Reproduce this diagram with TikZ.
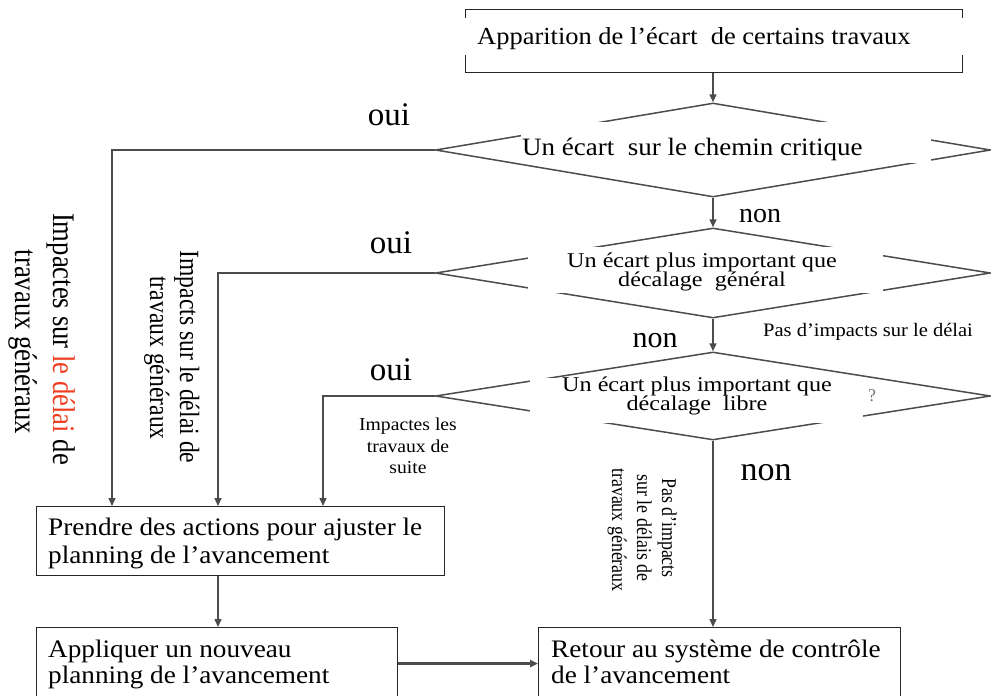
\documentclass[tikz,border=0pt]{standalone}
\usepackage{fontspec}
\setmainfont{Liberation Serif}
\newfontfamily\widefont{Liberation Serif}[FakeStretch=1.08]
\newfontfamily\widerfont{Liberation Serif}[FakeStretch=1.15]
\newfontfamily\narrowfont{Liberation Serif}[FakeStretch=0.85]
\usetikzlibrary{shapes.geometric,arrows.meta,calc}
\definecolor{linegray}{gray}{0.3}
\definecolor{accentred}{RGB}{240,60,30}
\newcommand{\tightpair}[2]{\parbox[b]{330pt}{\centering\widerfont\fontsize{21}{19.5}\selectfont\lineskiplimit=-100pt\lineskip=0pt #1\\#2}}
\begin{document}
\begin{tikzpicture}[x=1pt,y=-1pt,
  conn/.style={draw=linegray, line width=1.5pt},
  arr/.style={conn, -{Triangle[length=8pt,width=7pt]}},
  boxn/.style={draw=black!85, line width=1.1pt, inner sep=0pt, anchor=north west},
  dia/.style={diamond, draw=linegray, line width=1.5pt, inner sep=0pt, minimum width=555pt},
  mask/.style={fill=white, draw=none, inner sep=0pt},
  wtxt/.style={inner sep=0pt, anchor=base west, font=\widefont\fontsize{#1}{#1}\selectfont},
  ctxt/.style={inner sep=0pt, anchor=base, font=\widefont\fontsize{#1}{#1}\selectfont},
  yn/.style={inner sep=1pt, anchor=base, fill=white, font=\rmfamily\fontsize{#1}{#1}\selectfont},
  vtxt/.style={inner sep=0pt, anchor=base, rotate=-90, font=\narrowfont\fontsize{#1}{#1}\selectfont},
]
\path[use as bounding box, fill=white] (0,0) rectangle (991,696);

% top box
\node[boxn, minimum width=497pt, minimum height=63pt] (topbox) at (465,9) {};
\node[mask, minimum width=512pt, minimum height=37pt] (topmask) at (713,36.5) {};
\node[wtxt=24.5] (toptxt) at (477,44) {Apparition de l’écart\ \ de certains travaux};

% diamonds
\node[dia, minimum height=94pt] (d1) at (713,150) {};
\node[dia, minimum height=90pt] (d2) at (713,273) {};
\node[dia, minimum height=88pt] (d3) at (713,396) {};

\node[mask, minimum width=410pt, minimum height=41pt] (m1) at (726,142.5) {};
\node[wtxt=25] (t1) at (522,155) {Un écart\ \ sur le chemin critique};

\node[mask, minimum width=355pt, minimum height=46pt] (m2) at (705,270) {};
\node[inner sep=0pt, anchor=base] (t2) at (702,286.5) {\tightpair{Un écart plus important que}{décalage\ \ général}};

\node[mask, minimum width=333pt, minimum height=45pt] (m3) at (696.5,400.5) {};
\node[inner sep=0pt, anchor=base] (t3) at (697,410.5) {\tightpair{Un écart plus important que}{décalage\ \ libre}};

% bottom boxes
\node[boxn, minimum width=408pt, minimum height=69pt] (prendre) at (36,506) {};
\node[boxn, minimum width=361pt, minimum height=72pt] (appliquer) at (36,627) {};
\node[boxn, minimum width=362pt, minimum height=72pt] (retour) at (538,627) {};

\node[wtxt=25.2] (p1) at (48,535) {Prendre des actions pour ajuster le};
\node[wtxt=25.2] (p2) at (48,563) {planning de l’avancement};
\node[wtxt=25.2] (a1) at (48,657) {Appliquer un nouveau};
\node[wtxt=25.2] (a2) at (48,683) {planning de l’avancement};
\node[wtxt=25.2] (r1) at (551,657) {Retour au système de contrôle};
\node[wtxt=25.2] (r2) at (551,683) {de l’avancement};

% entry points on the Prendre box
\coordinate (pin1) at ($(prendre.north west)+(76,0)$);
\coordinate (pin2) at ($(prendre.north west)+(182,0)$);
\coordinate (pin3) at ($(prendre.north west)+(287,0)$);

% connectors
\draw[arr] (topbox.south -| d1.north) -- (d1.north);
\draw[arr] (d1.south) -- (d2.north);
\draw[arr] (d2.south) -- (d3.north);
\draw[arr] (d3.south) -- (d3.south |- retour.north);
\draw[arr] (d1.west) -| (pin1);
\draw[arr] (d2.west) -| (pin2);
\draw[arr] (d3.west) -| (pin3);
\draw[arr] (pin2 |- prendre.south) -- (pin2 |- appliquer.north);
\draw[arr, line width=2.2pt] (appliquer.east) -- (retour.west);

% yes / no labels
\node[yn=33] (oui1) at (389,125) {oui};
\node[yn=33] (oui2) at (391,253) {oui};
\node[yn=33] (oui3) at (391,380) {oui};
\node[yn=28] (non1) at (760,222) {non};
\node[yn=30] (non2) at (655,347) {non};
\node[yn=34] (non3) at (766,480) {non};

% other labels
\node[wtxt=19] (pasimp) at (763,336) {Pas d’impacts sur le délai};
\node[inner sep=0pt, font=\rmfamily\fontsize{18}{18}\selectfont, text=black!55] (qm) at (872,396) {?};
\node[ctxt=18.2] (il1) at (408,430) {Impactes les};
\node[ctxt=18.2] (il2) at (408,452) {travaux de};
\node[ctxt=18.2] (il3) at (408,473) {suite};

% rotated labels
\node[vtxt=31.4] (v1a) at (53,339) {Impactes sur {\color{accentred}le délai} de};
\node[vtxt=31.4] (v1b) at (15,342) {travaux généraux};
\node[vtxt=27.8] (v2a) at (180,357) {Impacts sur le délai de};
\node[vtxt=27.8] (v2b) at (150,358) {travaux généraux};
\node[vtxt=21] (v3a) at (662,528) {Pas d’impacts};
\node[vtxt=21] (v3b) at (637,528) {sur le délais de};
\node[vtxt=21] (v3c) at (612,530) {travaux généraux};
\end{tikzpicture}
\end{document}
